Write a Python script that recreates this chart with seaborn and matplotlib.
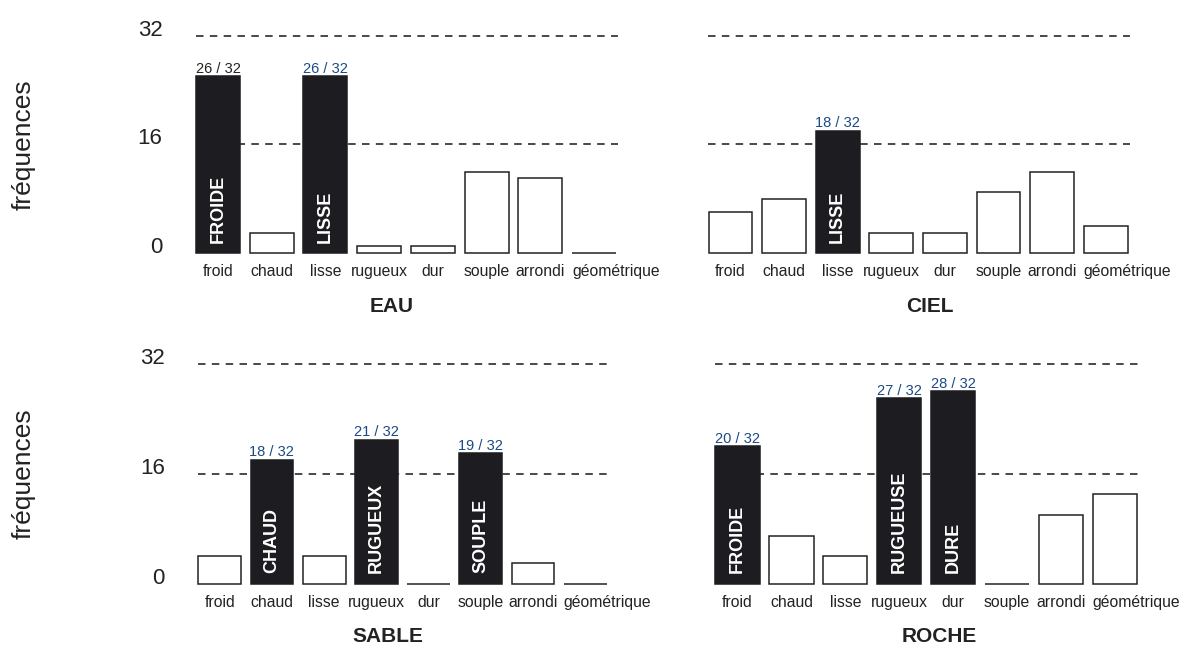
import matplotlib
matplotlib.use("Agg")
import matplotlib.pyplot as plt
import matplotlib.transforms as mtransforms
import seaborn as sns

sns.set_style("white")
plt.rcParams['font.family'] = ['Liberation Sans', 'DejaVu Sans']

# données : fréquences par catégorie (sur 32 réponses)
categories = ['froid', 'chaud', 'lisse', 'rugueux', 'dur', 'souple', 'arrondi', 'géométrique']
total = 32

eau = [26, 3, 26, 1, 1, 12, 11, 0]
ciel = [6, 8, 18, 3, 3, 9, 12, 4]
sable = [4, 18, 4, 21, 0, 19, 3, 0]
roche = [20, 7, 4, 27, 28, 0, 10, 13]

# mots dominants : index de la catégorie -> étiquette dans la barre
eau_tags = {0: 'FROIDE', 2: 'LISSE'}
ciel_tags = {2: 'LISSE'}
sable_tags = {1: 'CHAUD', 3: 'RUGUEUX', 5: 'SOUPLE'}
roche_tags = {0: 'FROIDE', 3: 'RUGUEUSE', 4: 'DURE'}

BLACK = '#1d1c20'
EDGE = '#222222'
BLUE = '#1b4a85'

W, H = 1179, 648
fig = plt.figure(figsize=(W / 100, H / 100), dpi=100)

# cadre de chaque panneau en pixels : gauche, droite, y(0), y(32), centre du titre
panels = [
    ('EAU', eau, eau_tags, (195.5, 620.8, 253, 35.7, 392, 306), True),
    ('CIEL', ciel, ciel_tags, (708, 1132.5, 253, 35.7, 930, 306), False),
    ('SABLE', sable, sable_tags, (197.8, 611.2, 583.7, 364, 388, 637), True),
    ('ROCHE', roche, roche_tags, (714.9, 1141.8, 583.7, 364, 939, 637), False),
]

for name, vals, tags, (l, r, y0, y32, tx, ty), first_col in panels:
    ax = fig.add_axes([l / W, (H - y0) / H, (r - l) / W, (y0 - y32) / H])
    sns.barplot(x=categories, y=vals, ax=ax, color='white', edgecolor=EDGE,
                linewidth=1.1, width=0.82, saturation=1, zorder=3)
    for i, p in enumerate(ax.patches):
        p.set_clip_on(False)
        if i in tags:
            p.set_facecolor(BLACK)
            p.set_edgecolor(BLACK)

    # lignes de référence 16 et 32
    for yy in (16, 32):
        ax.plot([-0.42, 7.45], [yy, yy], color='#2a2a2a', lw=1.2,
                ls=(0, (4.5, 3.8)), zorder=1, clip_on=False)

    for i, tag in tags.items():
        v = vals[i]
        col = '#222222' if (name == 'EAU' and i == 0) else BLUE
        ax.text(i, v + 0.1, f'{v} / {total}', ha='center', va='bottom',
                fontsize=10.5, color=col, zorder=4)
        ax.text(i, 1.5, tag, rotation=90, ha='center', va='bottom',
                color='white', fontweight='bold', fontsize=13, zorder=4)

    ax.set_xlim(-0.42, 7.5)
    ax.set_ylim(0, 32)
    sns.despine(ax=ax, left=True, bottom=True)
    ax.tick_params(axis='x', length=0, pad=8, labelsize=11.3, labelcolor='#222222')
    if first_col:
        ax.set_yticks([0, 16, 32])
        ax.set_yticklabels(['0', '16', '32'], va='baseline')
        ax.tick_params(axis='y', length=0, pad=23.8, labelsize=16, labelcolor='#222222')
        fig.text(24 / W, 1 - (y0 + y32) / 2 / H, 'fréquences', rotation=90,
                 ha='center', va='center', fontsize=19, color='#222222')
    else:
        ax.set_yticks([])
    ax.set_xlabel('')
    ax.set_ylabel('')

    # le dernier libellé commence au bord gauche de sa barre
    half_bar = 0.41 * (r - l) / 7.92
    last = ax.get_xticklabels()[-1]
    last.set_horizontalalignment('left')
    last.set_transform(last.get_transform() +
                       mtransforms.ScaledTranslation(-half_bar / 100, 0, fig.dpi_scale_trans))

    fig.text(tx / W, 1 - ty / H, name, ha='center', va='center',
             fontsize=15, fontweight='bold', color='#222222')

fig.savefig('out.png', dpi=100)
